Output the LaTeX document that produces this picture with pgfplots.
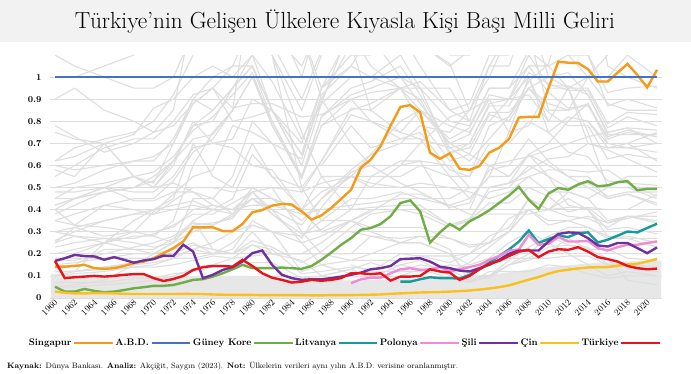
\documentclass[border=0pt]{standalone}
\usepackage{graphicx}
\usepackage{pgfplots}
\pgfplotsset{compat=1.18}
\usepackage{pgfplotstable}
\definecolor{cOr}{RGB}{243,156,26}
\definecolor{cBl}{RGB}{68,114,196}
\definecolor{cGr}{RGB}{112,173,71}
\definecolor{cTe}{RGB}{22,155,155}
\definecolor{cPk}{RGB}{240,140,215}
\definecolor{cPu}{RGB}{112,48,160}
\definecolor{cYe}{RGB}{250,192,30}
\definecolor{cRe}{RGB}{232,19,27}
\definecolor{lineGray}{RGB}{222,222,222}
\definecolor{gridGray}{RGB}{222,222,222}
\definecolor{bandGray}{RGB}{231,231,231}
\definecolor{titleBand}{RGB}{242,242,242}

\pgfplotstableread{
year Sg ABD Kr Lt Pl Sl Cn Tr
1960 0.142 1 0.051 nan nan 0.168 0.029 0.168
1961 0.142 1 0.029 nan nan 0.180 0.024 0.090
1962 0.145 1 0.029 nan nan 0.195 0.021 0.094
1963 0.150 1 0.041 nan nan 0.190 0.021 0.097
1964 0.135 1 0.032 nan nan 0.188 0.022 0.100
1965 0.132 1 0.026 nan nan 0.173 0.022 0.097
1966 0.135 1 0.029 nan nan 0.185 0.021 0.100
1967 0.145 1 0.036 nan nan 0.173 0.019 0.105
1968 0.158 1 0.044 nan nan 0.160 0.018 0.108
1969 0.165 1 0.049 nan nan 0.170 0.018 0.108
1970 0.180 1 0.055 nan nan 0.176 0.018 0.090
1971 0.203 1 0.055 nan nan 0.192 0.018 0.077
1972 0.226 1 0.059 nan nan 0.190 0.018 0.086
1973 0.256 1 0.070 nan nan 0.241 0.019 0.100
1974 0.320 1 0.082 nan nan 0.210 0.018 0.127
1975 0.320 1 0.085 nan nan 0.090 0.018 0.140
1976 0.320 1 0.097 nan nan 0.105 0.016 0.145
1977 0.303 1 0.112 nan nan 0.127 0.015 0.145
1978 0.303 1 0.130 nan nan 0.140 0.014 0.142
1979 0.335 1 0.150 nan nan 0.165 0.014 0.173
1980 0.388 1 0.135 nan nan 0.203 0.014 0.145
1981 0.398 1 0.135 nan nan 0.215 0.013 0.112
1982 0.418 1 0.135 nan nan 0.150 0.013 0.092
1983 0.426 1 0.138 nan nan 0.105 0.013 0.082
1984 0.423 1 0.135 nan nan 0.090 0.013 0.070
1985 0.392 1 0.132 nan nan 0.082 0.013 0.074
1986 0.355 1 0.145 nan nan 0.085 0.012 0.082
1987 0.374 1 0.173 nan nan 0.085 0.012 0.078
1988 0.408 1 0.206 nan nan 0.090 0.013 0.082
1989 0.449 1 0.241 nan nan 0.097 0.013 0.090
1990 0.490 1 0.271 nan 0.067 0.105 0.013 0.112
1991 0.590 1 0.309 nan 0.085 0.115 0.014 0.112
1992 0.627 1 0.317 nan 0.092 0.130 0.015 0.108
1993 0.688 1 0.335 nan 0.092 0.135 0.016 0.112
1994 0.780 1 0.370 nan 0.112 0.145 0.019 0.079
1995 0.865 1 0.430 0.074 0.130 0.176 0.021 0.097
1996 0.873 1 0.442 0.074 0.135 0.178 0.023 0.097
1997 0.840 1 0.392 0.085 0.127 0.180 0.025 0.100
1998 0.658 1 0.251 0.094 0.130 0.165 0.026 0.130
1999 0.630 1 0.297 0.090 0.140 0.142 0.027 0.120
2000 0.655 1 0.335 0.090 0.120 0.135 0.029 0.115
2001 0.585 1 0.309 0.088 0.130 0.124 0.031 0.082
2002 0.580 1 0.347 0.105 0.140 0.120 0.034 0.100
2003 0.597 1 0.370 0.130 0.150 0.135 0.038 0.130
2004 0.658 1 0.397 0.160 0.173 0.150 0.043 0.155
2005 0.680 1 0.430 0.190 0.190 0.173 0.049 0.168
2006 0.720 1 0.464 0.220 0.214 0.200 0.057 0.190
2007 0.817 1 0.503 0.255 0.220 0.215 0.070 0.210
2008 0.820 1 0.445 0.306 0.286 0.215 0.083 0.218
2009 0.820 1 0.403 0.249 0.241 0.215 0.095 0.185
2010 0.950 1 0.473 0.267 0.245 0.256 0.110 0.210
2011 1.070 1 0.498 0.282 0.276 0.290 0.122 0.221
2012 1.065 1 0.490 0.276 0.256 0.297 0.128 0.218
2013 1.064 1 0.514 0.294 0.256 0.295 0.134 0.230
2014 1.036 1 0.529 0.297 0.259 0.271 0.138 0.210
2015 0.980 1 0.506 0.251 0.226 0.238 0.140 0.185
2016 0.980 1 0.510 0.264 0.215 0.233 0.140 0.176
2017 1.020 1 0.524 0.282 0.230 0.249 0.146 0.165
2018 1.060 1 0.529 0.301 0.241 0.249 0.152 0.145
2019 1.010 1 0.488 0.297 0.241 0.226 0.155 0.135
2020 0.953 1 0.494 0.317 0.249 0.203 0.165 0.130
2021 1.033 1 0.494 0.336 0.256 0.229 0.177 0.133
}\mainT

\pgfplotstableread{
name 1960 1962 1965 1968 1970 1972 1974 1976 1978 1980 1982 1985 1987 1990 1992 1995 1997 2000 2002 2004 2006 2008 2010 2012 2014 2016 2018 2021
g1 0.78 0.73 0.66 0.70 0.75 0.78 0.88 0.95 0.86 0.88 0.88 0.82 0.83 0.90 0.80 0.72 0.72 0.68 0.62 0.72 0.82 0.95 1.00 1.02 0.92 0.74 0.74 0.74
g2 0.60 0.58 0.60 0.62 0.64 0.70 0.88 0.95 0.80 0.82 0.85 0.60 0.60 0.78 0.68 0.72 0.75 0.58 0.55 0.78 0.82 0.98 1.06 1.35 1.10 0.87 0.90 0.86
g3 0.62 0.64 0.70 0.74 0.86 0.90 1.00 1.05 1.00 1.10 0.98 0.72 0.88 1.24 1.18 1.00 0.95 0.80 0.78 0.95 0.95 1.05 1.05 1.10 1.00 0.88 0.85 0.85
g4 0.45 0.50 0.52 0.55 0.50 0.62 0.72 0.74 0.85 1.00 0.78 0.55 0.78 0.90 0.93 0.95 0.80 0.62 0.65 0.83 0.80 0.95 0.84 0.78 0.78 0.63 0.65 0.63
g5 0.48 0.48 0.50 0.44 0.44 0.48 0.48 0.45 0.55 0.80 0.70 0.48 0.62 0.83 0.80 0.75 0.85 0.78 0.75 0.90 0.90 0.92 0.80 0.80 0.88 0.70 0.68 0.66
g6 0.38 0.42 0.48 0.50 0.53 0.62 0.78 0.80 0.95 1.10 0.85 0.60 0.88 1.00 1.00 1.10 0.95 0.66 0.68 0.84 0.84 0.95 0.88 0.85 0.88 0.72 0.75 0.73
g7 0.26 0.30 0.35 0.38 0.40 0.42 0.44 0.40 0.45 0.65 0.55 0.50 0.62 0.86 0.85 0.75 0.72 0.55 0.55 0.70 0.70 0.80 0.75 0.66 0.64 0.53 0.52 0.51
g8 0.16 0.20 0.25 0.30 0.39 0.47 0.55 0.58 0.78 0.75 0.70 0.63 0.92 1.05 1.20 1.50 1.15 1.06 0.85 0.90 0.75 0.78 0.95 0.95 0.70 0.67 0.63 0.57
g9 0.62 0.68 0.72 0.75 0.80 0.92 1.10 1.30 1.55 1.50 1.30 1.00 1.30 1.60 1.50 1.80 1.45 1.10 1.10 1.30 1.30 1.50 1.60 1.70 1.60 1.40 1.35 1.30
g10 0.42 0.45 0.50 0.55 0.57 0.64 0.76 0.82 0.92 1.02 0.78 0.54 0.78 0.85 0.88 0.95 0.85 0.72 0.77 0.95 0.95 1.12 1.05 0.95 0.95 0.79 0.84 0.83
g11 0.13 0.15 0.22 0.22 0.22 0.27 0.33 0.34 0.36 0.48 0.38 0.27 0.41 0.57 0.60 0.52 0.48 0.41 0.43 0.58 0.60 0.72 0.62 0.55 0.55 0.45 0.47 0.43
g12 0.17 0.17 0.20 0.23 0.25 0.28 0.34 0.33 0.37 0.45 0.38 0.29 0.31 0.40 0.41 0.42 0.42 0.33 0.35 0.50 0.52 0.65 0.55 0.42 0.40 0.31 0.32 0.29
g13 0.12 0.12 0.14 0.16 0.18 0.20 0.24 0.22 0.20 0.26 0.23 0.16 0.21 0.32 0.38 0.40 0.38 0.32 0.35 0.43 0.43 0.50 0.46 0.39 0.41 0.34 0.37 0.34
g14 0.23 0.25 0.27 0.27 0.29 0.33 0.38 0.38 0.43 0.48 0.40 0.33 0.45 0.58 0.65 0.70 0.78 0.75 0.85 1.05 1.05 1.30 1.00 0.95 1.00 1.10 1.25 1.40
g15 0.40 0.33 0.42 0.40 0.38 0.44 0.50 0.50 0.48 0.50 0.45 0.40 0.48 0.55 0.55 0.62 0.62 0.60 0.50 0.50 0.52 0.58 0.63 0.64 0.70 0.68 0.70 0.75
g16 0.75 0.72 0.70 0.55 0.50 0.60 0.80 0.70 0.68 0.60 0.58 0.40 0.55 0.55 0.50 0.60 0.62 0.40 0.40 0.60 0.55 0.65 0.70 0.80 0.80 0.68 0.68 0.70
g17 0.35 0.38 0.42 0.45 0.45 0.53 0.66 0.72 0.85 1.00 0.80 0.55 0.82 0.95 0.98 1.05 0.92 0.68 0.70 0.87 0.87 1.02 0.97 0.94 0.94 0.77 0.82 0.78
g18 0.40 0.45 0.50 0.48 0.48 0.55 0.68 0.70 0.72 0.90 0.85 0.65 0.90 1.15 0.85 0.95 0.90 0.65 0.70 0.88 0.90 1.10 0.96 0.96 0.92 0.75 0.77 0.76
g19 0.50 0.52 0.58 0.62 0.62 0.72 0.90 1.00 1.05 1.25 1.15 0.90 1.12 1.20 1.20 1.20 1.15 1.05 1.12 1.40 1.60 2.00 1.80 2.00 1.80 1.25 1.30 1.30
g20 0.55 0.60 0.68 0.72 0.72 0.80 0.92 0.95 1.05 1.05 0.85 0.65 0.95 1.10 1.10 1.20 1.05 0.85 0.88 1.10 1.10 1.30 1.20 1.10 1.10 0.93 0.95 0.96
g21 0.25 0.32 0.28 0.30 0.28 0.25 0.35 0.22 0.20 0.30 0.20 0.20 0.20 0.20 0.28 0.27 0.28 0.22 0.07 0.10 0.15 0.17 0.21 0.27 0.22 0.22 0.18 0.17
g22 0.35 0.33 0.32 0.30 0.30 0.32 0.40 0.42 0.40 0.45 0.40 0.25 0.15 0.11 0.12 0.12 0.15 0.13 0.08 0.10 0.17 0.23 0.28 0.24 0.22 0.18 0.08 0.06
g23 0.20 0.22 0.25 0.28 0.28 0.35 0.60 0.75 0.85 1.45 1.10 0.50 0.35 0.35 0.32 0.32 0.32 0.27 0.23 0.25 0.36 0.40 0.40 0.48 0.45 0.35 0.37 0.35
g24 0.15 0.16 0.18 0.20 0.20 0.25 0.30 0.33 0.38 0.45 0.45 0.35 0.45 0.55 0.65 0.80 0.85 0.70 0.65 0.60 0.62 0.64 0.67 0.70 0.73 0.75 0.77 0.70
g25 0.12 0.12 0.13 0.14 0.14 0.15 0.17 0.19 0.18 0.24 0.20 0.17 0.10 0.13 0.16 0.12 0.12 0.15 0.14 0.16 0.18 0.18 0.18 0.19 0.19 0.15 0.15 0.14
g26 0.07 0.07 0.07 0.09 0.09 0.11 0.12 0.14 0.14 0.16 0.16 0.09 0.10 0.13 0.09 0.15 0.17 0.10 0.08 0.09 0.15 0.18 0.23 0.24 0.23 0.15 0.15 0.12
g27 0.42 0.45 0.48 0.50 0.55 0.62 0.78 0.85 0.95 1.05 0.80 0.55 0.82 0.92 0.95 1.00 0.88 0.70 0.74 0.92 0.90 1.05 0.93 0.86 0.87 0.73 0.76 0.73
g28 0.58 0.55 0.70 0.55 0.52 0.70 0.90 0.85 0.95 1.05 0.85 0.70 0.95 1.05 1.00 0.95 0.98 0.85 0.80 1.05 1.20 1.20 0.85 0.85 1.00 1.00 1.10 1.00
g29 0.05 0.05 0.06 0.07 0.08 0.10 0.13 0.15 0.18 0.19 0.20 0.20 0.25 0.35 0.39 0.47 0.47 0.42 0.38 0.38 0.38 0.38 0.40 0.41 0.41 0.40 0.40 0.47
g30 0.90 0.95 0.85 0.80 0.75 0.85 1.30 1.30 1.20 1.50 1.10 0.75 0.55 0.40 0.55 0.55 0.60 0.55 0.45 0.55 0.75 1.00 0.80 0.95 0.75 0.50 0.55 0.55
g31 0.30 0.28 0.25 0.22 0.20 0.22 0.25 0.20 0.22 0.35 0.30 0.12 0.15 0.17 0.20 0.25 0.25 0.20 0.10 0.10 0.15 0.20 0.28 0.32 0.32 0.28 0.28 0.25
g32 0.18 0.18 0.18 0.18 0.18 0.19 0.22 0.20 0.20 0.24 0.22 0.11 0.12 0.14 0.13 0.15 0.13 0.09 0.07 0.12 0.12 0.12 0.15 0.14 0.11 0.09 0.10 0.10
g33 0.25 0.28 0.27 0.25 0.23 0.25 0.35 0.40 0.38 0.50 0.50 0.30 0.20 0.17 0.17 0.17 0.19 0.19 0.20 0.25 0.30 0.40 0.35 0.35 0.32 0.27 0.27 0.23
g34 0.12 0.12 0.14 0.15 0.16 0.18 0.18 0.20 0.25 0.33 0.30 0.28 0.35 0.45 0.45 0.48 0.45 0.42 0.45 0.55 0.55 0.65 0.60 0.55 0.50 0.45 0.47 0.42
g35 nan nan nan nan nan nan nan nan nan nan nan nan nan 0.15 0.12 0.20 0.19 0.16 0.20 0.28 0.32 0.45 0.40 0.37 0.36 0.32 0.37 0.37
g36 1.10 1.05 1.00 0.95 0.95 1.00 1.20 1.15 1.30 1.40 1.10 0.85 1.10 1.40 1.45 1.70 1.60 1.30 1.40 1.75 1.90 2.30 2.20 2.10 2.20 1.80 1.85 1.90
g37 nan nan nan nan nan 1.70 2.00 2.20 1.80 2.30 1.80 1.20 0.95 1.20 1.05 0.95 0.95 0.95 0.80 0.80 0.90 1.00 0.75 0.82 0.80 0.70 0.70 0.62
g38 0.45 0.45 0.48 0.50 0.50 0.52 0.48 0.42 0.40 0.48 0.50 0.48 0.52 0.55 0.52 0.50 0.52 0.50 0.48 0.45 0.48 0.55 0.48 0.48 0.45 0.50 0.50 0.45
g39 0.10 0.11 0.12 0.14 0.15 0.18 0.22 0.25 0.30 0.33 0.30 0.25 0.28 0.35 0.40 0.40 0.40 0.33 0.36 0.48 0.50 0.60 0.55 0.50 0.52 0.46 0.48 0.48
g40 0.30 0.32 0.35 0.38 0.38 0.40 0.42 0.40 0.40 0.42 0.42 0.38 0.40 0.42 0.43 0.45 0.45 0.45 0.50 0.50 0.52 0.55 0.58 0.58 0.57 0.58 0.52 0.46
g41 0.10 0.12 0.25 0.35 0.40 0.45 0.70 0.55 0.50 0.70 0.55 0.40 0.30 0.35 0.30 0.25 0.25 0.20 0.15 0.18 0.25 0.30 0.25 0.20 0.15 0.10 0.12 0.10
g42 1.00 1.00 1.05 1.10 1.15 1.20 1.25 1.20 1.25 1.30 1.20 1.05 1.25 1.30 1.30 1.35 1.40 1.40 1.50 1.60 1.80 1.90 1.80 1.70 1.75 1.65 1.60 1.55
g43 nan nan nan nan 1.60 1.70 2.10 2.20 1.90 2.40 2.00 1.20 0.90 0.70 0.60 0.60 0.70 0.82 0.85 1.00 1.20 1.70 1.45 1.65 1.60 1.05 1.00 0.95
g44 nan nan nan nan nan nan nan nan nan nan nan nan nan nan nan 0.10 0.13 0.12 0.16 0.23 0.30 0.40 0.33 0.35 0.37 0.34 0.36 0.39
g45 0.05 0.06 0.08 0.15 0.20 0.25 0.45 0.45 0.38 0.50 0.45 0.40 0.30 0.30 0.28 0.25 0.28 0.27 0.24 0.25 0.30 0.45 0.40 0.45 0.40 0.28 0.27 0.27
}\grayRaw
\pgfplotstabletranspose[colnames from=name, input colnames to=year]{\grayT}{\grayRaw}

\begin{document}
\begin{tikzpicture}
\path[use as bounding box] (0pt,0pt) rectangle (691pt,373pt);
\fill[white] (0pt,0pt) rectangle (691pt,373pt);
\fill[titleBand] (0pt,331pt) rectangle (691pt,373pt);
\node[inner sep=0pt] at (345pt,351pt) {\resizebox{540pt}{!}{\fontsize{22}{24}\selectfont Türkiye’nin Gelişen Ülkelere Kıyasla Kişi Başı Milli Geliri}};
\node[anchor=west, inner sep=0pt] at (7pt,7pt) {\resizebox{451pt}{!}{\fontsize{8}{9}\selectfont\textbf{Kaynak:} Dünya Bankası. \textbf{Analiz:} Akçiğit, Saygın (2023). \textbf{Not:} Ülkelerin verileri aynı yılın A.B.D. verisine oranlanmıştır.}};
\begin{axis}[
  at={(50pt,75pt)}, anchor=south west,
  scale only axis, width=612pt, height=243pt,
  xmin=1959.5, xmax=2021.5, ymin=0, ymax=1.1,
  axis line style={draw=none},
  major tick style={draw=none},
  ymajorgrids, grid style={draw=gridGray, line width=0.8pt},
  ytick={0,0.1,0.2,0.3,0.4,0.5,0.6,0.7,0.8,0.9,1},
  xtick={1960,1962,...,2020},
  /pgf/number format/assume math mode=true,
  /pgf/number format/1000 sep={},
  yticklabel style={font=\fontsize{9}{10}\selectfont\bfseries, xshift=-5pt},
  xticklabel style={font=\fontsize{9}{10}\selectfont, rotate=45, anchor=east, yshift=-3pt, inner sep=1pt},
  legend columns=8, legend plot pos=right,
  legend style={at={(0.4808,-0.1852)}, anchor=center, draw=none, fill=none,
    font=\fontsize{9.5}{11}\selectfont\bfseries,
    nodes={inner sep=1.5pt}, column sep=0pt},
  legend image code/.code={\draw[#1] (0pt,0pt) -- (25pt,0pt); \path (-2pt,0pt) -- (36.5pt,0pt);},
]
\addplot[fill=bandGray, draw=none, forget plot] coordinates {
(1959.6,0.11) (1963,0.10) (1966,0.10) (1970,0.10) (1975,0.10) (1980,0.10) (1985,0.08) (1990,0.08) (1995,0.085) (2000,0.09) (2005,0.11) (2010,0.14) (2015,0.16) (2021.4,0.17)} \closedcycle;
\pgfplotsinvokeforeach{1,...,45}{
  \addplot[lineGray, line width=1.1pt, forget plot] table[x=year, y=g#1] {\grayT};
}
\addplot[cOr, line width=2.4pt] table[x=year, y=Sg] {\mainT};
\addlegendentry{Singapur}
\addplot[cBl, line width=2.6pt] table[x=year, y=ABD] {\mainT};
\addlegendentry{A.B.D.}
\addplot[cGr, line width=2.4pt] table[x=year, y=Kr] {\mainT};
\addlegendentry{Güney Kore}
\addplot[cTe, line width=2.4pt] table[x=year, y=Lt] {\mainT};
\addlegendentry{Litvanya}
\addplot[cPk, line width=2.4pt] table[x=year, y=Pl] {\mainT};
\addlegendentry{Polonya}
\addplot[cPu, line width=2.4pt] table[x=year, y=Sl] {\mainT};
\addlegendentry{Şili}
\addplot[cYe, line width=2.4pt] table[x=year, y=Cn] {\mainT};
\addlegendentry{Çin}
\addplot[cRe, line width=2.4pt] table[x=year, y=Tr] {\mainT};
\addlegendentry{Türkiye}
\end{axis}
\end{tikzpicture}
\end{document}
